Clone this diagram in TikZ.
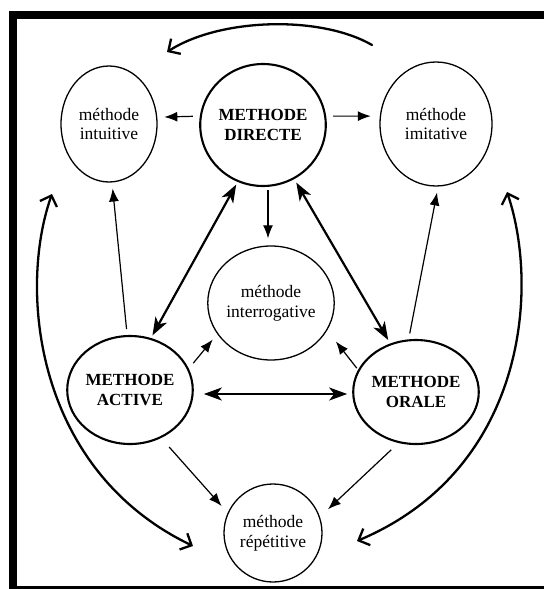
\documentclass[tikz,border=0pt]{standalone}
\usepackage{fontspec}
\setmainfont{Liberation Serif}
\usetikzlibrary{shapes.geometric,arrows.meta}
\begin{document}
\begin{tikzpicture}[x=1pt,y=-1pt,
  meth/.style={draw, ellipse, line width=1.3pt, inner sep=0pt, align=center,
    font=\fontsize{17.5}{20}\selectfont},
  bigmeth/.style={meth, line width=2.1pt, font=\fontsize{17}{20}\selectfont\bfseries},
  thinarr/.style={line width=1.2pt, -{Latex[length=13pt,width=10pt]}},
  dblarr/.style={line width=2.2pt, {Stealth[length=18pt,width=13pt,inset=5pt]}-{Stealth[length=18pt,width=13pt,inset=5pt]}},
  curvarr/.style={line width=2.3pt, line cap=round, -{Straight Barb[length=9pt,width=18pt,line width=2.3pt]}},
  dcurvarr/.style={line width=2.3pt, {Straight Barb[length=9pt,width=18pt,line width=2.3pt]}-{Straight Barb[length=9pt,width=18pt,line width=2.3pt]}},
]
\useasboundingbox (0,0) rectangle (544,589);
% frame
\fill (9,11) rectangle (544,19);
\fill (9,11) rectangle (17,589);
\fill (9,586) rectangle (544,589);

% nodes
\node[meth, minimum width=96pt, minimum height=116pt] (intu) at (109,124) {méthode\\intuitive};
\node[bigmeth, minimum width=98pt, minimum height=122pt] (dir) at (263,125) {METHODE\\DIRECTE};
\node[meth, minimum width=112pt, minimum height=124pt] (imit) at (436,124) {méthode\\imitative};
\node[meth, minimum width=102pt, minimum height=114pt] (intg) at (271,303) {méthode\\interrogative};
\node[bigmeth, minimum width=96pt, minimum height=108pt] (act) at (130,390) {METHODE\\ACTIVE};
\node[bigmeth, minimum width=104pt, minimum height=104pt] (oral) at (416,392) {METHODE\\ORALE};
\node[meth, minimum width=98pt, minimum height=98pt] (rep) at (273,533) {méthode\\répétitive};

% curve end points
\coordinate (tr) at (372,45);
\coordinate (tl) at (167,52);
\coordinate (lt) at (52,194);
\coordinate (lb) at (193,546);
\coordinate (rt) at (507,192);
\coordinate (rb) at (357,541);

% thin arrows
\draw[thinarr, shorten <=7pt, shorten >=7pt] (dir.172) -- (intu.8);
\draw[thinarr, shorten <=7pt, shorten >=9pt] (dir.8) -- (imit.172);
\draw[thinarr, shorten <=3pt, shorten >=7pt] ([xshift=5pt]dir.south) -- ([xshift=-3pt]intg.north);
\draw[thinarr, shorten <=6pt, shorten >=6pt] (act.93) -- (intu.273);
\draw[thinarr, shorten <=6pt, shorten >=6pt] (oral.98) -- (imit.272);
\draw[thinarr, shorten <=7pt, shorten >=7pt] (act.20) -- (intg.210);
\draw[thinarr, shorten <=2pt, shorten >=14pt] (oral.159) -- (intg.334);
\draw[thinarr, shorten <=12pt, shorten >=9pt] (act.303) -- (rep.156);
\draw[thinarr, shorten <=10pt, shorten >=11pt] (oral.251) -- (rep.19);

% thick double arrows
\draw[dblarr, shorten <=3pt, shorten >=3pt] (dir.246) -- (act.68);
\draw[dblarr, shorten <=4pt, shorten >=4pt] (dir.300) -- (oral.118);
\draw[dblarr, shorten <=10pt, shorten >=5pt] ([yshift=-4pt]act.east) -- ([yshift=-2pt]oral.west);

% curved arrows
\draw[curvarr] (tr) .. controls (320,15) and (220,18) .. (tl);
\draw[dcurvarr] (lt) .. controls (18,290) and (35,470) .. (lb);
\draw[dcurvarr] (rt) .. controls (540,290) and (525,470) .. (rb);
\end{tikzpicture}
\end{document}
